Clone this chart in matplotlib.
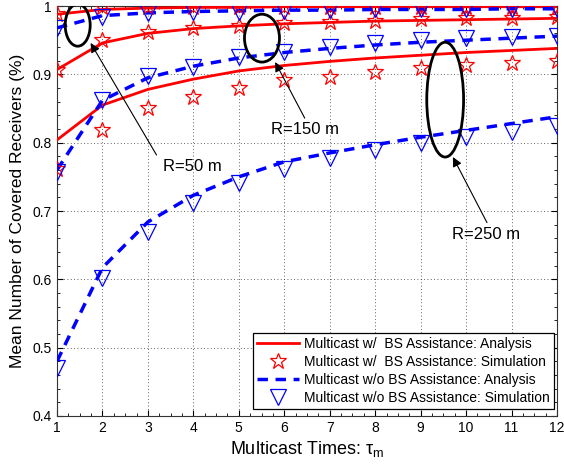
import numpy as np
import matplotlib
matplotlib.use("Agg")
import matplotlib.pyplot as plt
from matplotlib.patches import Ellipse
from matplotlib.ticker import MultipleLocator

plt.rcParams['font.family'] = ['Liberation Sans', 'DejaVu Sans']

# Data
tau = [1, 2, 3, 4, 5, 6, 7, 8, 9, 10, 11, 12]

# Multicast with BS assistance: analysis
bs_ana_50 = [0.988, 0.995, 0.997, 0.998, 0.998, 0.999, 0.999, 0.999, 0.999, 0.999, 0.999, 0.999]
bs_ana_150 = [0.907, 0.946, 0.960, 0.967, 0.971, 0.974, 0.976, 0.978, 0.979, 0.980, 0.981, 0.982]
bs_ana_250 = [0.804, 0.855, 0.878, 0.893, 0.905, 0.913, 0.919, 0.924, 0.928, 0.932, 0.935, 0.938]
# Multicast with BS assistance: simulation
bs_sim_50 = [0.988, 0.998, 0.999, 0.999, 0.999, 0.999, 0.999, 0.999, 0.999, 0.999, 0.999, 0.999]
bs_sim_150 = [0.907, 0.951, 0.962, 0.968, 0.971, 0.975, 0.977, 0.978, 0.981, 0.982, 0.983, 0.984]
bs_sim_250 = [0.762, 0.819, 0.851, 0.867, 0.880, 0.892, 0.896, 0.904, 0.909, 0.914, 0.917, 0.920]
# Multicast without BS assistance: analysis
nobs_ana_50 = [0.968, 0.986, 0.990, 0.992, 0.993, 0.994, 0.994, 0.995, 0.995, 0.995, 0.996, 0.996]
nobs_ana_150 = [0.760, 0.862, 0.895, 0.912, 0.924, 0.932, 0.938, 0.943, 0.947, 0.950, 0.953, 0.956]
nobs_ana_250 = [0.480, 0.617, 0.684, 0.723, 0.750, 0.772, 0.785, 0.797, 0.808, 0.818, 0.828, 0.838]
# Multicast without BS assistance: simulation
nobs_sim_50 = [0.968, 0.984, 0.990, 0.991, 0.992, 0.993, 0.994, 0.995, 0.995, 0.995, 0.995, 0.995]
nobs_sim_150 = [0.757, 0.863, 0.898, 0.911, 0.926, 0.933, 0.940, 0.946, 0.950, 0.953, 0.955, 0.956]
nobs_sim_250 = [0.470, 0.602, 0.669, 0.712, 0.741, 0.762, 0.778, 0.789, 0.800, 0.808, 0.816, 0.825]

legend_labels = ["Multicast w/  BS Assistance: Analysis",
                 "Multicast w/  BS Assistance: Simulation",
                 "Multicast w/o BS Assistance: Analysis",
                 "Multicast w/o BS Assistance: Simulation"]

fig = plt.figure(figsize=(5.64, 4.65), dpi=100)
ax = fig.add_axes([0.101, 0.1054, 0.8866, 0.8816])

red = '#ff0000'
blue = '#0000ff'

for i, (ya, ys) in enumerate([(bs_ana_50, bs_sim_50), (bs_ana_150, bs_sim_150), (bs_ana_250, bs_sim_250)]):
    ax.plot(tau, ya, '-', color=red, lw=2, label=legend_labels[0] if i == 0 else None, zorder=3)
for i, (ya, ys) in enumerate([(nobs_ana_50, nobs_sim_50), (nobs_ana_150, nobs_sim_150), (nobs_ana_250, nobs_sim_250)]):
    ax.plot(tau, ya, '--', color=blue, lw=2.5, dashes=(3, 2.2), label=legend_labels[2] if i == 0 else None, zorder=3)
for i, ys in enumerate([bs_sim_50, bs_sim_150, bs_sim_250]):
    ax.plot(tau, ys, linestyle='none', marker='*', markersize=12, markerfacecolor='none',
            markeredgecolor=red, markeredgewidth=0.9, label=legend_labels[1] if i == 0 else None, zorder=4)
for i, ys in enumerate([nobs_sim_50, nobs_sim_150, nobs_sim_250]):
    ax.plot(tau, ys, linestyle='none', marker='v', markersize=11, markerfacecolor='none',
            markeredgecolor=blue, markeredgewidth=0.9, label=legend_labels[3] if i == 0 else None, zorder=4)

ax.set_xlim(1, 12)
ax.set_ylim(0.4, 1.0)
ax.set_xticks(tau)
ax.set_yticks([0.4, 0.5, 0.6, 0.7, 0.8, 0.9, 1.0])
ax.set_yticklabels(['0.4', '0.5', '0.6', '0.7', '0.8', '0.9', '1'])
ax.xaxis.set_minor_locator(MultipleLocator(0.25))
ax.yaxis.set_minor_locator(MultipleLocator(0.02))
ax.tick_params(which='both', direction='in', top=True, right=True, labelsize=10)
ax.tick_params(which='major', length=4)
ax.tick_params(which='minor', length=2)
ax.grid(True, which='major', linestyle=(0, (1, 3)), color='#333333', lw=0.6)
for s in ax.spines.values():
    s.set_linewidth(0.8)
    s.set_color('#333333')

ax.set_xlabel(r'Multicast Times: $\mathregular{\tau_m}$', fontsize=13, labelpad=3)
ax.set_ylabel('Mean Number of Covered Receivers (%)', fontsize=12.5, labelpad=6)

# Annotations: ellipses and arrows
ell_kw = dict(fill=False, edgecolor='black', lw=2, zorder=6)
ax.add_patch(Ellipse((1.456, 0.972), 0.55, 0.0615, **ell_kw))
ax.add_patch(Ellipse((5.51, 0.953), 0.77, 0.070, **ell_kw))
ax.add_patch(Ellipse((9.54, 0.863), 0.81, 0.168, **ell_kw))

arr = dict(arrowstyle='-|>', color='black', lw=0.8, mutation_scale=14, shrinkA=0, shrinkB=0)
ax.annotate('', xy=(1.74, 0.946), xytext=(3.19, 0.782), arrowprops=arr, zorder=7)
ax.annotate('', xy=(5.80, 0.918), xytext=(6.45, 0.836), arrowprops=arr, zorder=7)
ax.annotate('', xy=(9.71, 0.779), xytext=(10.46, 0.683), arrowprops=arr, zorder=7)
ax.text(3.97, 0.765, 'R=50 m', fontsize=12, ha='center', va='center', zorder=7)
ax.text(6.45, 0.819, 'R=150 m', fontsize=12, ha='center', va='center', zorder=7)
ax.text(10.44, 0.665, 'R=250 m', fontsize=12, ha='center', va='center', zorder=7)

# Legend order
handles, labels = ax.get_legend_handles_labels()
order = [labels.index(l) for l in legend_labels]
leg = ax.legend([handles[i] for i in order], [labels[i] for i in order],
                loc='lower right', bbox_to_anchor=(0.993, 0.017), fontsize=10, frameon=True,
                fancybox=False, edgecolor='black', framealpha=1, handlelength=3.0,
                handletextpad=0.35, borderpad=0.3, labelspacing=0.28, borderaxespad=0)
leg.get_frame().set_linewidth(0.9)
leg.set_zorder(10)

fig.savefig('out.png', dpi=100)
